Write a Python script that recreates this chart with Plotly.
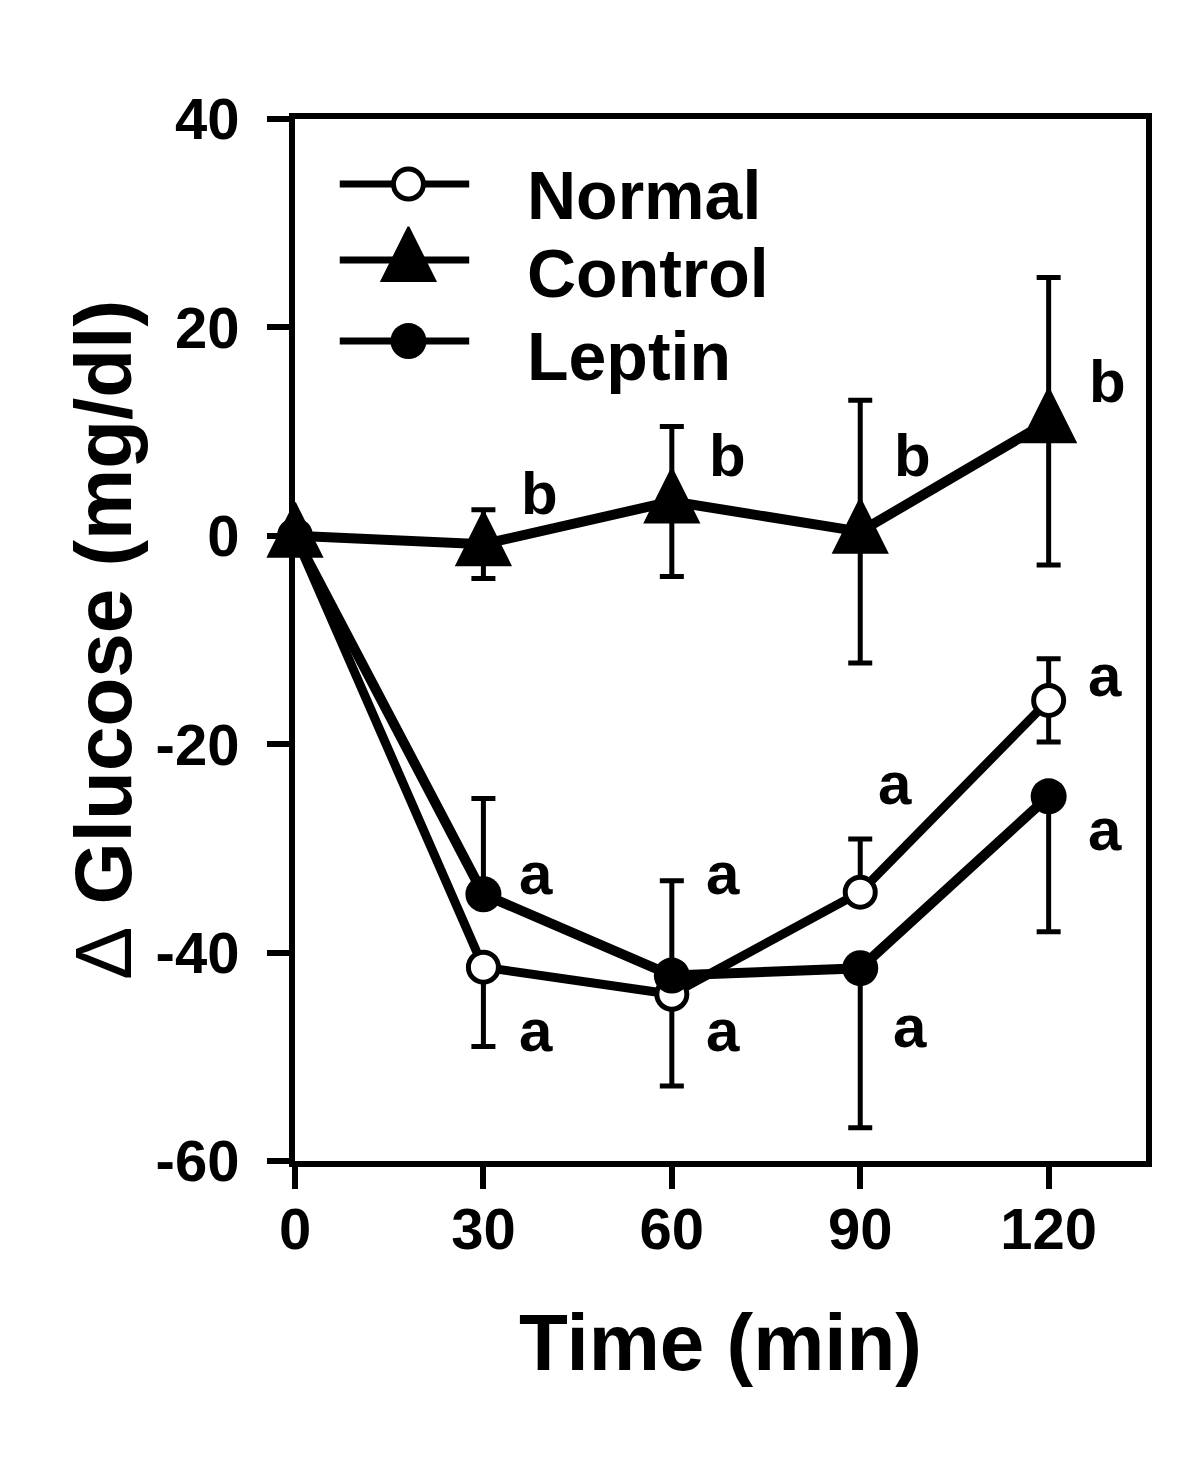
import plotly.graph_objects as go

# ---- data ----
time_min = [0, 30, 60, 90, 120]

normal = [0, -41.4, -44.0, -34.2, -15.8]
normal_err_up = [0, 0, 0, 5.1, 4.0]
normal_err_down = [0, 7.6, 8.8, 0, 4.0]

control = [0, -0.8, 3.3, 0.4, 11.0]
control_err = [0, 3.3, 7.2, 12.6, 13.8]

leptin = [0, -34.4, -42.2, -41.5, -25.0]
leptin_err_up = [0, 9.2, 9.1, 0, 0]
leptin_err_down = [0, 0, 0, 15.3, 13.0]

letter_text = ["b", "b", "b", "b", "a", "a", "a", "a", "a", "a", "a", "a"]
letter_x = [38.9, 68.9, 98.3, 129.4, 38.4, 38.4, 68.1, 68.1, 95.6, 97.9, 128.9, 128.9]
letter_y = [4.1, 7.7, 7.7, 14.8, -32.4, -47.5, -32.4, -47.5, -23.8, -47.1, -13.4, -28.2]

y_ticks = [40, 20, 0, -20, -40, -60]
y_tick_labels = ["40", "20", "0", "-20", "-40", "-60"]
x_ticks = [0, 30, 60, 90, 120]
x_tick_labels = ["0", "30", "60", "90", "120"]

series_names = ["Normal", "Control", "Leptin"]

FONT = "Liberation Sans, Arial, sans-serif"
BLACK = "black"

fig = go.Figure()

err_style = dict(thickness=5, width=12, color=BLACK)

normal_marker = dict(symbol="circle", size=30, color="white", line=dict(color=BLACK, width=5))
# upward triangle, roughly as tall as wide (arrow-down rotated 180 and re-centred with standoff)
control_marker = dict(symbol="arrow-down", angle=180, standoff=33, size=54, color=BLACK,
                      line=dict(color=BLACK, width=2))
leptin_marker = dict(symbol="circle", size=36, color=BLACK)

fig.add_trace(go.Scatter(
    x=time_min, y=normal, mode="lines+markers", name="Normal",
    line=dict(color=BLACK, width=9), marker=normal_marker,
    error_y=dict(type="data", symmetric=False, array=normal_err_up, arrayminus=normal_err_down, **err_style),
    cliponaxis=False, showlegend=False))

fig.add_trace(go.Scatter(
    x=time_min, y=control, mode="lines+markers", name="Control",
    line=dict(color=BLACK, width=10, backoff=0), marker=control_marker,
    error_y=dict(type="data", array=control_err, **err_style),
    cliponaxis=False, showlegend=False))

fig.add_trace(go.Scatter(
    x=time_min, y=leptin, mode="lines+markers", name="Leptin",
    line=dict(color=BLACK, width=10), marker=leptin_marker,
    error_y=dict(type="data", symmetric=False, array=leptin_err_up, arrayminus=leptin_err_down, **err_style),
    cliponaxis=False, showlegend=False))

# ---- significance letters ----
for t, xv, yv in zip(letter_text, letter_x, letter_y):
    fig.add_annotation(x=xv, y=yv, xref="x", yref="y", text=t, showarrow=False,
                       font=dict(family=FONT, size=60, color=BLACK, weight="bold"),
                       xanchor="center", yanchor="middle")

# ---- manual legend (overlay axes in paper-like units) ----
leg_line_x = [0.0526, 0.2047]
leg_marker_x = 0.1333
leg_y = [0.9376, 0.8647, 0.7869]
leg_label_x = 0.2700
leg_label_y = [0.927, 0.852, 0.773]
leg_markers = [normal_marker, control_marker, leptin_marker]
for name, yy, mk, ly in zip(series_names, leg_y, leg_markers, leg_label_y):
    fig.add_trace(go.Scatter(x=leg_line_x, y=[yy, yy], mode="lines", line=dict(color=BLACK, width=7),
                             xaxis="x2", yaxis="y2", showlegend=False, hoverinfo="skip"))
    fig.add_trace(go.Scatter(x=[leg_marker_x], y=[yy], mode="markers", marker=mk,
                             xaxis="x2", yaxis="y2", showlegend=False, hoverinfo="skip"))
    fig.add_annotation(x=leg_label_x, y=ly, xref="paper", yref="paper", text=name, showarrow=False,
                       xanchor="left", yanchor="middle",
                       font=dict(family=FONT, size=68, color=BLACK, weight="bold"))

fig.update_layout(
    width=1200, height=1462,
    margin=dict(l=287, r=62, t=111, b=309),
    paper_bgcolor="white", plot_bgcolor="white",
    font=dict(family=FONT, color=BLACK),
    xaxis=dict(
        range=[0, 135.5], tickvals=x_ticks, ticktext=x_tick_labels,
        showgrid=False, zeroline=False, showline=True, linecolor=BLACK, linewidth=6, mirror=True,
        ticks="outside", ticklen=22, tickwidth=6, tickcolor=BLACK, ticklabelstandoff=-10,
        tickfont=dict(family=FONT, size=58, color=BLACK, weight="bold"),
        title=dict(text="Time (min)", font=dict(family=FONT, size=80, color=BLACK, weight="bold"), standoff=56),
    ),
    yaxis=dict(
        range=[-60, 40], tickvals=y_ticks, ticktext=y_tick_labels,
        showgrid=False, zeroline=False, showline=True, linecolor=BLACK, linewidth=6, mirror=True,
        ticks="outside", ticklen=22, tickwidth=6, tickcolor=BLACK, ticklabelstandoff=16,
        tickfont=dict(family=FONT, size=58, color=BLACK, weight="bold"),
        title=dict(text="<span style='font-weight:normal'>\u0394</span> Glucose (mg/dl)",
                   font=dict(family=FONT, size=80, color=BLACK, weight="bold"), standoff=0),
    ),
    xaxis2=dict(range=[0, 1], overlaying="x", visible=False, fixedrange=True),
    yaxis2=dict(range=[0, 1], overlaying="y", visible=False, fixedrange=True),
    showlegend=False,
)

fig.write_html("out.html")
